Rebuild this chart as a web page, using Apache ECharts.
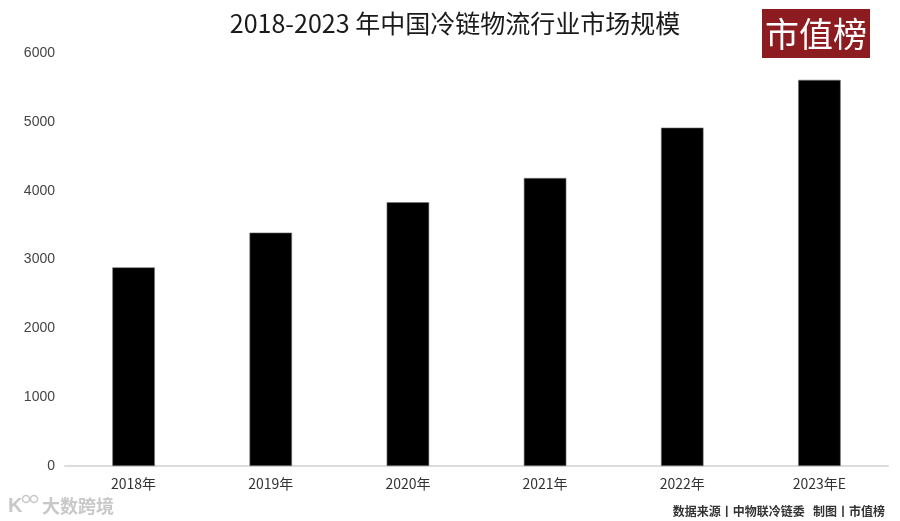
<!DOCTYPE html>
<html>
<head>
<meta charset="utf-8">
<script src="https://cdn.jsdelivr.net/npm/echarts@6/dist/echarts.min.js"></script>
<style>
html,body{margin:0;padding:0;background:#fff;}
#chart{width:900px;height:521px;}
</style>
</head>
<body>
<div id="chart"></div>
<script>
var categories = ['2018年', '2019年', '2020年', '2021年', '2022年', '2023年E'];
var values = [2886, 3391, 3832, 4184, 4916, 5610];
var yTicks = [0, 1000, 2000, 3000, 4000, 5000, 6000];
var titleText = '2018-2023 年中国冷链物流行业市场规模';
var sourceText = '数据来源丨中物联冷链委   制图丨市值榜';
var logoText = '市值榜';
var watermarkText = '大数跨境';

var chart = echarts.init(document.getElementById('chart'));
var font = '"Noto Sans CJK SC", "Noto Sans", sans-serif';
chart.setOption({
  backgroundColor: '#fff',
  animation: false,
  title: {
    text: titleText,
    left: 450,
    textAlign: 'center',
    top: 6,
    textStyle: { fontFamily: font, fontSize: 25, fontWeight: 'normal', color: '#1a1a1a' }
  },
  grid: { left: 65, right: 12, top: 53, bottom: 55, containLabel: false },
  xAxis: {
    type: 'category',
    data: categories,
    axisLine: { show: true, lineStyle: { color: '#dcdcdc', width: 2 } },
    axisTick: { show: false },
    axisLabel: { color: '#333', fontSize: 14, fontFamily: font, margin: 11 }
  },
  yAxis: {
    type: 'value',
    min: yTicks[0],
    max: yTicks[yTicks.length - 1],
    interval: 1000,
    axisLine: { show: false },
    axisTick: { show: false },
    splitLine: { show: false },
    axisLabel: {
      color: '#444', fontSize: 14, fontFamily: '"Liberation Sans", sans-serif', margin: 10,
      formatter: function (v) { return String(v); }
    }
  },
  series: [{
    type: 'bar',
    data: values,
    barWidth: '31%',
    itemStyle: { color: '#000', borderColor: '#777', borderWidth: 0.6 }
  }],
  graphic: [
    { type: 'rect', shape: { x: 762, y: 9, width: 108, height: 49 }, style: { fill: '#8c1c1f' } },
    { type: 'text', x: 816, y: 34, style: { text: logoText, fill: '#fff', font: '34px "Noto Sans CJK SC", sans-serif', textAlign: 'center', textVerticalAlign: 'middle' } },
    { type: 'text', x: 885, y: 511, style: { text: sourceText, fill: '#333', font: 'bold 12px "Noto Sans CJK SC", sans-serif', textAlign: 'right', textVerticalAlign: 'middle' } },
    { type: 'text', x: 8, y: 506, style: { text: 'K', fill: '#c8c8c8', font: 'bold 20px "Liberation Sans", sans-serif', textAlign: 'left', textVerticalAlign: 'middle' } },
    { type: 'circle', shape: { cx: 26, cy: 499, r: 3.5 }, style: { fill: 'none', stroke: '#c8c8c8', lineWidth: 1.5 } },
    { type: 'circle', shape: { cx: 34, cy: 499, r: 3.5 }, style: { fill: 'none', stroke: '#c8c8c8', lineWidth: 1.5 } },
    { type: 'text', x: 42, y: 506, style: { text: watermarkText, fill: '#c8c8c8', font: 'bold 18px "Noto Sans CJK SC", sans-serif', textAlign: 'left', textVerticalAlign: 'middle' } }
  ]
});
</script>
</body>
</html>
